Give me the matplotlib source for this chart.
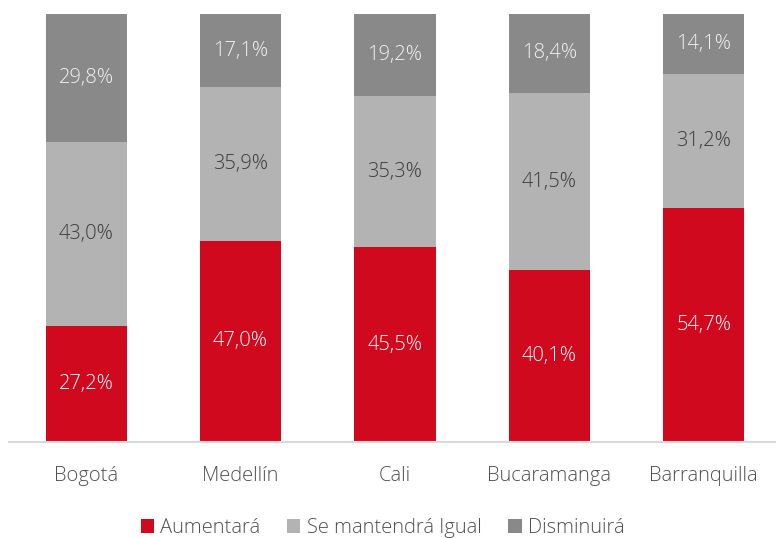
import matplotlib
matplotlib.use("Agg")
import matplotlib.pyplot as plt
import numpy as np

plt.rcParams['font.family'] = ['Open Sans', 'DejaVu Sans']
plt.rcParams['font.weight'] = 'light'

categories = ["Bogotá", "Medellín", "Cali", "Bucaramanga", "Barranquilla"]
aumentara = [27.2, 47.0, 45.5, 40.1, 54.7]
igual = [43.0, 35.9, 35.3, 41.5, 31.2]
disminuira = [29.8, 17.1, 19.2, 18.4, 14.1]
series_names = ["Aumentará", "Se mantendrá Igual", "Disminuirá"]

colors = ["#D0091E", "#B3B3B3", "#898989"]
text_colors = ["white", "#3A3A3A", "#F2F2F2"]

fig = plt.figure(figsize=(7.76, 5.38), dpi=100)
ax = fig.add_axes([9/776, (538-442)/538, (781-9)/776, 428/538])

x = np.arange(len(categories))
bottom = np.zeros(len(categories))
handles = []
for vals, name, c, tc in zip([aumentara, igual, disminuira], series_names, colors, text_colors):
    vals = np.array(vals)
    b = ax.bar(x, vals, 0.525, bottom=bottom, color=c, label=name, zorder=2)
    handles.append(b)
    for xi, v, bo in zip(x, vals, bottom):
        ax.text(xi, bo + v / 2, f"{v:.1f}%".replace(".", ","), ha="center", va="center",
                color=tc, fontsize=14.5, fontweight='light', zorder=3)
    bottom += vals

ax.set_xlim(-0.5, 4.5)
ax.set_ylim(0, 100)
for s in ["top", "right", "left"]:
    ax.spines[s].set_visible(False)
ax.spines["bottom"].set_color("#D9D9D9")
ax.spines["bottom"].set_linewidth(1.5)
ax.spines["bottom"].set_zorder(4)
ax.set_yticks([])
ax.set_xticks(x)
ax.set_xticklabels(categories, fontsize=14.5, color="#4F4F4F", fontweight='light')
ax.tick_params(axis="x", length=0, pad=17)

fig.legend(handles=handles, labels=series_names, loc="center", bbox_to_anchor=(0.493, 1 - 528/538),
           ncol=3, frameon=False, handlelength=0.65, handleheight=0.65,
           handletextpad=0.3, columnspacing=1.35, labelcolor="#4F4F4F",
           prop={'weight': 'light', 'size': 14.5})

fig.savefig("out.png", dpi=100)
